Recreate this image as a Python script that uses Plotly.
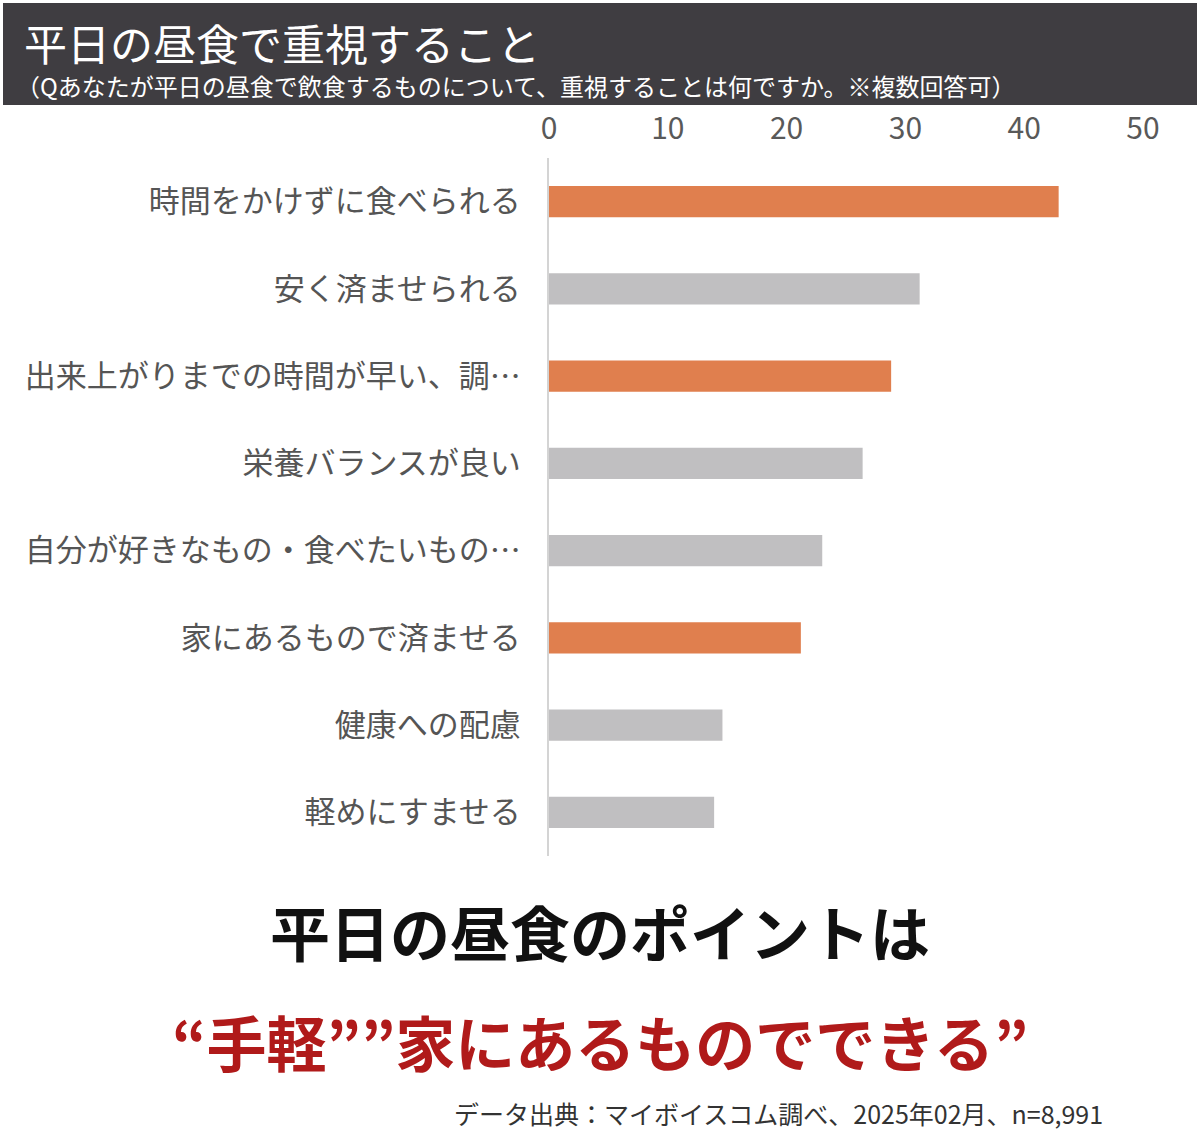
import plotly.graph_objects as go

categories = ["時間をかけずに食べられる", "安く済ませられる", "出来上がりまでの時間が早い、調…",
              "栄養バランスが良い", "自分が好きなもの・食べたいもの…", "家にあるもので済ませる",
              "健康への配慮", "軽めにすませる"]
values = [42.9, 31.2, 28.8, 26.4, 23.0, 21.2, 14.6, 13.9]
highlight = [True, False, True, False, False, True, False, False]
tick_vals = [0, 10, 20, 30, 40, 50]

title = "平日の昼食で重視すること"
subtitle = "（Qあなたが平日の昼食で飲食するものについて、重視することは何ですか。※複数回答可）"
point1 = "平日の昼食のポイントは"
point2 = "“手軽””家にあるものでできる”"
source = "データ出典：マイボイスコム調べ、2025年02月、n=8,991"

W, H = 1200, 1144
L, R, T, B = 549, 1143, 158, 856
FONT = "Noto Sans CJK JP"

def px2x(px):
    return (px - L) / (R - L)

def px2y(py):
    return (B - py) / (B - T)

colors = ["#E07F4E" if h else "#C0BFC1" for h in highlight]

fig = go.Figure(go.Bar(
    x=values, y=categories, orientation="h",
    marker=dict(color=colors, line=dict(width=0)),
    width=0.36,
))

fig.update_layout(
    width=W, height=H,
    margin=dict(l=L, r=W - R, t=T, b=H - B, autoexpand=False),
    paper_bgcolor="white", plot_bgcolor="white",
    showlegend=False,
    font=dict(family=FONT, color="#555555"),
)
fig.update_xaxes(
    side="top", range=[0, 50], tickvals=tick_vals,
    tickfont=dict(size=30, color="#595959", family=FONT),
    showgrid=False, zeroline=False, showline=False,
    ticklabelstandoff=12, automargin=False,
)
fig.update_yaxes(
    categoryorder="array", categoryarray=categories[::-1],
    tickfont=dict(size=31, color="#555555", family=FONT),
    showgrid=False, zeroline=False,
    showline=True, linecolor="#D4D4D4", linewidth=2,
    ticklabelstandoff=20, automargin=False,
)

# header band
fig.add_shape(type="rect", xref="paper", yref="paper",
              x0=px2x(3), x1=px2x(1197), y0=px2y(105), y1=px2y(3),
              fillcolor="#3F3D41", line=dict(width=0), layer="below")

anns = [
    dict(text=title, x=px2x(22), y=px2y(42), xanchor="left", yanchor="middle",
         font=dict(size=43, color="white", family=FONT)),
    dict(text=subtitle, x=px2x(14), y=px2y(85), xanchor="left", yanchor="middle",
         font=dict(size=24, color="white", family=FONT)),
    dict(text="<b>" + point1 + "</b>", x=px2x(600), y=px2y(930), xanchor="center", yanchor="middle",
         font=dict(size=60, color="#111111", family=FONT)),
    dict(text="<b>" + point2 + "</b>", x=px2x(600), y=px2y(1040), xanchor="center", yanchor="middle",
         font=dict(size=60, color="#B01A1A", family=FONT)),
    dict(text=source, x=px2x(1105), y=px2y(1113), xanchor="right", yanchor="middle",
         font=dict(size=25, color="#333333", family=FONT)),
]
for a in anns:
    fig.add_annotation(xref="paper", yref="paper", showarrow=False, **a)

fig.write_html("out.html")
